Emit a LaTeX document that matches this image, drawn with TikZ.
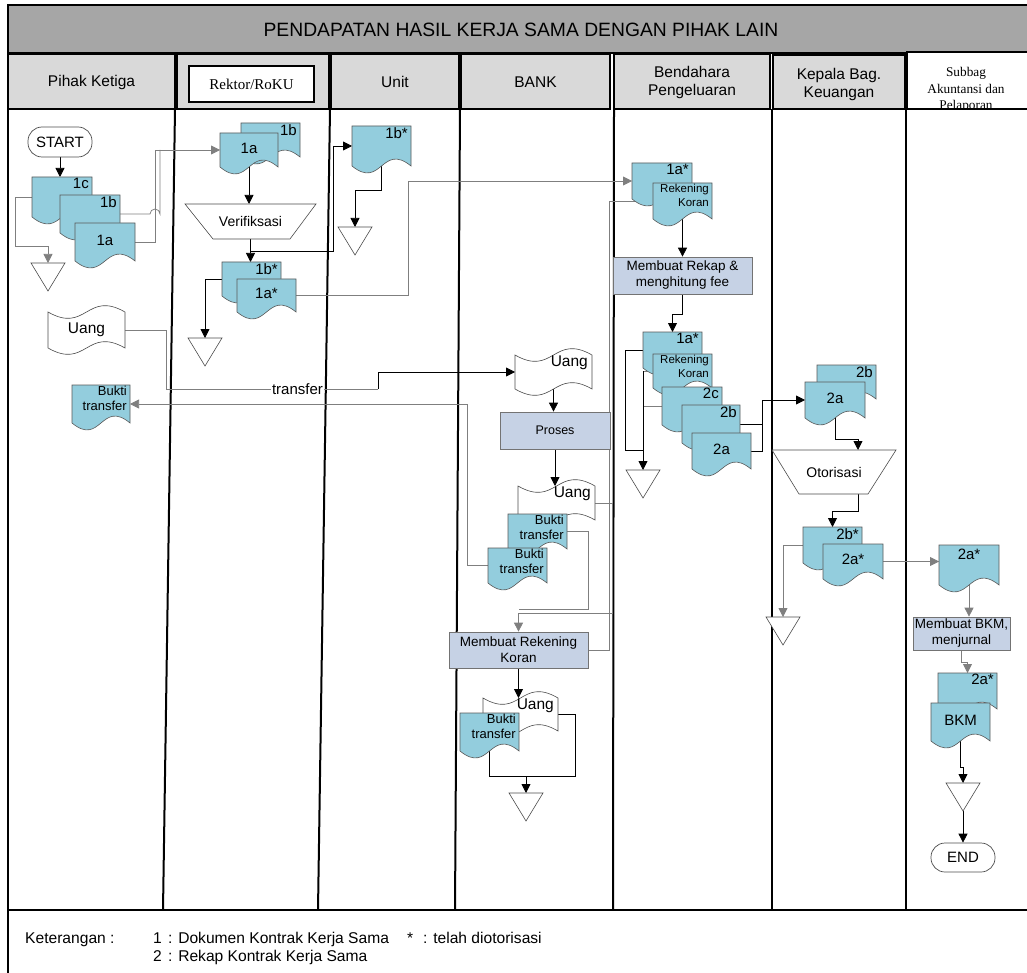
\documentclass[tikz,border=0pt]{standalone}
\usepackage{fontspec}
\setmainfont{Liberation Sans}
\newfontfamily\tnr{Liberation Serif}
\usetikzlibrary{arrows.meta}
\pgfdeclarelayer{bg}
\pgfsetlayers{bg,main}
\definecolor{docblue}{HTML}{93CDDD}
\definecolor{procfill}{HTML}{C6D2E5}
\definecolor{hdrgray}{HTML}{D9D9D9}
\definecolor{titlegray}{HTML}{A6A6A6}
\definecolor{lgray}{HTML}{7F7F7F}

% document shape, label top right
\newcommand\DocTR[7]{%
  \draw[docsty] (#2,#3) -- ({#2+#4},#3) -- ({#2+#4},{#3+#5}) .. controls ({#2+0.5*#4},{#3+#5-24}) and ({#2+0.5*#4},{#3+#5+24}) .. (#2,{#3+#5}) -- cycle;
  \node[box, minimum width=#4, minimum height=#5, anchor=north west] (#1) at (#2,#3) {};
  \node[dlbl, anchor=north east, #6] at ({#2+#4-2},{#3}) {#7};}
% document shape, label centred
\newcommand\DocC[7]{%
  \draw[docsty] (#2,#3) -- ({#2+#4},#3) -- ({#2+#4},{#3+#5}) .. controls ({#2+0.5*#4},{#3+#5-24}) and ({#2+0.5*#4},{#3+#5+24}) .. (#2,{#3+#5}) -- cycle;
  \node[box, minimum width=#4, minimum height=#5, anchor=north west] (#1) at (#2,#3) {};
  \node[dlbl, #6] at ({#2+0.5*#4},{#3+0.45*#5}) {#7};}
% punched tape shape
\newcommand\TapeShape[4]{%
  \draw[tapesty] (#1,#2) .. controls ({#1+0.5*#3},{#2+22}) and ({#1+0.5*#3},{#2-22}) .. ({#1+#3},#2) -- ({#1+#3},{#2+#4}) .. controls ({#1+0.5*#3},{#2+#4-22}) and ({#1+0.5*#3},{#2+#4+22}) .. (#1,{#2+#4}) -- cycle;}
\newcommand\TapeC[7]{%
  \TapeShape{#2}{#3}{#4}{#5}
  \node[box, minimum width=#4, minimum height=#5, anchor=north west] (#1) at (#2,#3) {};
  \node[lbl, #6] at (#1) {#7};}
\newcommand\TapeTR[7]{%
  \TapeShape{#2}{#3}{#4}{#5}
  \node[box, minimum width=#4, minimum height=#5, anchor=north west] (#1) at (#2,#3) {};
  \node[lbl, anchor=north east, #6] at ({#2+#4-3},{#3}) {#7};}
% off-page / storage triangle
\newcommand\Tri[3]{%
  \draw[tapesty] ({#2-17},#3) -- ({#2+17},#3) -- (#2,{#3+28}) -- cycle;
  \node[box, minimum width=34, minimum height=28, anchor=north] (#1) at (#2,#3) {};}

\begin{document}
\begin{tikzpicture}[x=1pt,y=-1pt, line join=miter,
  conn/.style={line width=0.75pt, draw=black},
  gconn/.style={line width=0.75pt, draw=lgray},
  arr/.style={-{Triangle[length=9pt,width=9pt]}},
  docsty/.style={draw=black!65, line width=0.6pt, fill=docblue},
  tapesty/.style={draw=black!70, line width=0.6pt, fill=white},
  box/.style={draw=none, inner sep=0pt, outer sep=0pt},
  lbl/.style={inner sep=1pt, font=\fontsize{14}{16}\selectfont},
  dlbl/.style={inner sep=1pt, font=\fontsize{15}{16}\selectfont},
  big/.style={font=\fontsize{15.5}{17}\selectfont},
  small/.style={font=\fontsize{13}{15}\selectfont, align=right},
  tiny/.style={font=\fontsize{11.5}{13.5}\selectfont, align=right},
  proc/.style={draw=black!55, line width=0.7pt, fill=procfill, inner sep=2pt, align=center, font=\fontsize{13.5}{16}\selectfont},
  lane/.style={line width=2pt, draw=black},
  hdr/.style={draw=black, line width=1.6pt, fill=hdrgray},
  hdrtxt/.style={align=center, font=\fontsize{15.5}{18}\selectfont},
  term/.style={draw=black!70, line width=0.7pt, rounded corners=14pt, inner sep=0pt, font=\fontsize{15}{17}\selectfont}
]
\useasboundingbox (0,0) rectangle (1027,973);

% ---------- frame, title and headers ----------
\draw[line width=1.6pt, fill=titlegray] (8,5) rectangle (1040,53);
\node[font=\fontsize{19.3}{22}\selectfont] (title) at (521,30) {PENDAPATAN HASIL KERJA SAMA DENGAN PIHAK LAIN};
\draw[line width=2pt] (8,5) -- (8,975);

\draw[hdr] (8,54) rectangle (175,109);
\node[hdrtxt] (h1) at (91.5,82) {Pihak Ketiga};
\draw[hdr] (177,54) rectangle (329,109);
\node[draw=black, line width=1.4pt, fill=white, minimum width=125, minimum height=36, inner sep=0pt, font=\tnr\fontsize{15}{17}\selectfont] (h2) at (251.5,84) {Rektor/RoKU};
\draw[hdr] (331,54) rectangle (459,109);
\node[hdrtxt] (h3) at (395,82) {Unit};
\draw[hdr] (461,54) rectangle (610,109);
\node[hdrtxt] (h4) at (535.5,82) {BANK};
\draw[hdr] (614,54) rectangle (770,109);
\node[hdrtxt] (h5) at (692,82) {Bendahara\\Pengeluaran};
\draw[hdr] (773,55) rectangle (905,109);
\node[hdrtxt] (h6) at (839,84) {Kepala Bag.\\Keuangan};
\draw[line width=1.4pt, fill=white] (907,52) rectangle (1040,109);
\begin{scope}
\clip (908,53) rectangle (1040,108);
\node[align=center, font=\tnr\fontsize{13.3}{16.5}\selectfont] (h7) at (966,90) {Subbag\\Akuntansi dan\\Pelaporan};
\end{scope}

% ---------- lanes ----------
\begin{pgfonlayer}{bg}
\draw[lane] (175,109) -- (163,910);
\draw[lane] (330,109) -- (318,910);
\draw[lane] (460,109) -- (455,910);
\draw[lane] (614,109) -- (613,910);
\draw[lane] (772,109) -- (772,910);
\draw[lane] (906,109) -- (906,910);
\draw[line width=1.6pt] (8,910) -- (1040,910);
\end{pgfonlayer}

% ---------- Pihak Ketiga ----------
\node[term, minimum width=64, minimum height=30] (start) at (60,142) {START};
\DocTR{d1c}{32}{177}{60}{40}{}{1c}
\DocTR{d1b}{60}{195}{60}{38}{}{1b}
\DocC{d1a}{75}{223}{60}{38}{}{1a}
\Tri{t1}{48}{263}
\TapeC{uang1}{48}{312}{77}{36}{big}{Uang}
\DocTR{bt1}{72}{385}{58}{38}{small}{Bukti\\transfer}

% ---------- Rektor ----------
\DocTR{r1b}{241}{123}{59}{34}{}{1b}
\DocC{r1a}{220}{133}{58}{34}{}{1a}
\draw[tapesty] (185,204) -- (316,204) -- (290,239) -- (213,239) -- cycle;
\node[box, minimum width=131, minimum height=35] (verif) at (250.5,221.5) {};
\node[lbl] at (verif) {Verifiksasi};
\DocTR{r1bs}{222}{262}{59}{34}{}{1b*}
\DocC{r1as}{237}{279}{59}{33}{}{1a*}
\Tri{t2}{205}{338}

% ---------- Unit ----------
\DocTR{u1bs}{352}{126}{59}{40}{}{1b*}
\Tri{t3}{355}{227}

% ---------- BANK ----------
\TapeTR{uang2}{515}{355}{77}{34}{big}{Uang}
\node[proc, minimum width=110, minimum height=37, font=\fontsize{12.5}{15}\selectfont] (proses) at (555,430.5) {Proses};
\TapeTR{uang3}{518}{486}{77}{34}{big}{Uang}
\DocTR{bt2}{508}{514}{59}{35}{small}{Bukti\\transfer}
\DocTR{bt3}{488}{548}{59}{35}{small}{Bukti\\transfer}
\node[proc, minimum width=139, minimum height=36] (mrk) at (518.5,650) {Membuat Rekening\\Koran};
\TapeTR{uang4}{483}{698}{75}{33}{big}{Uang}
\DocTR{bt4}{460}{713}{59}{38}{small}{Bukti\\transfer}
\Tri{t4}{526}{793}

% ---------- Bendahara ----------
\DocTR{b1as}{632}{163}{60}{36}{}{1a*}
\DocTR{brk}{653}{183}{59}{36}{tiny}{Rekening\\Koran}
\node[proc, minimum width=139, minimum height=37] (mrf) at (682.5,275.5) {Membuat Rekap \&\\menghitung fee};
\DocTR{b1as2}{643}{332}{59}{36}{}{1a*}
\DocTR{brk2}{653}{354}{59}{34}{tiny}{Rekening\\Koran}
\DocTR{b2c}{662}{387}{60}{38}{}{2c}
\DocTR{b2b}{682}{405}{58}{38}{}{2b}
\DocC{b2a}{692}{433}{59}{36}{}{2a}
\Tri{t5}{643}{470}

% ---------- Kepala Bag. Keuangan ----------
\DocTR{k2b}{817}{365}{59}{34}{}{2b}
\DocC{k2a}{805}{382}{60}{36}{}{2a}
\draw[tapesty] (772,450) -- (896,450) -- (868,494) -- (799,494) -- cycle;
\node[box, minimum width=124, minimum height=44] (otor) at (834,472) {};
\node[lbl] at (otor) {Otorisasi};
\DocTR{k2bs}{803}{527}{59}{36}{}{2b*}
\DocC{k2as}{823}{544}{60}{35}{}{2a*}
\Tri{t6}{783}{617}

% ---------- Subbag ----------
\DocC{s2as}{939}{545}{60}{40}{yshift=9pt}{2a*}
\node[proc, minimum width=97, minimum height=33] (bkm) at (961.5,633.5) {Membuat BKM,\\menjurnal};
\DocTR{s2as2}{938}{673}{59}{36}{}{2a*}
\DocC{sbkm}{931}{703}{59}{38}{}{BKM}
\Tri{t7}{963}{783}
\node[term, minimum width=64, minimum height=29] (end) at (963,857.5) {END};

% ---------- connectors ----------
\coordinate (j1) at (250.5,251);
\begin{pgfonlayer}{bg}
\draw[conn,arr] (start.south) -- (start.south |- d1c.north);
\draw[gconn,arr] (d1c.west) -- (15,197) |- (48,246) -- (t1.north);
\draw[gconn,arr] (d1a.east) -- (155,242) -- (155,150) -- (r1a.west);
\draw[gconn] (d1b.east) -- (150,214) arc[start angle=180, end angle=0, radius=5pt] -- (160,150);
\draw[conn,arr] (r1a.south) -- (r1a.south |- verif.north);
\draw[conn,arr] (verif.south) -- (verif.south |- r1bs.north);
\draw[conn,arr] (j1) -- (333,251) -- (333,146) -- (u1bs.west);
\draw[conn,arr] (r1bs.west) -- (205,279) -- (t2.north);
\draw[gconn,arr] (r1as.east) -- (408,295.5) -- (408,181) -- (b1as.west);
\draw[conn,arr] (u1bs.south) -- (381.5,190) -- (355,190) -- (t3.north);
\draw[gconn] (uang1.east) -- (166,330) -- (166,389) -- node[pos=0.62, fill=white, inner sep=1pt, font=\fontsize{15}{17}\selectfont] (trf) {transfer} (378,389);
\draw[conn,arr] (378,389) -- (378,372) -- (uang2.west);
\draw[gconn,arr] (bt3.west) -- (467,565.5) -- (467,404) -- (bt1.east);
\draw[conn,arr] (uang2.south) -- (uang2.south |- proses.north);
\draw[conn,arr] (proses.south) -- (proses.south |- uang3.north);
\draw[gconn,arr] (uang3.east) -- (612,503) -- (612,613) -- (518.5,613) -- (mrk.north);
\draw[gconn] (bt2.east) -- (588,531.5) -- (588,609) -- (518.5,609);
\draw[gconn,arr] (mrk.east) -- (609,650) -- (609,201) -- (brk.west);
\draw[conn,arr] (mrk.south) -- (mrk.south |- uang4.north);
\draw[conn] (uang4.east) -- (575,714.5) -- (575,776) -- (489.5,776) -- (bt4.south);
\draw[conn,arr] (526,776) -- (t4.north);
\draw[conn,arr] (brk.south) -- (brk.south |- mrf.north);
\draw[conn,arr] (mrf.south) -- (682.5,314) -- (672.5,314) -- (b1as2.north);
\draw[conn] (b1as2.west) -- (625,350) -- (625,450) -- (643,450);
\draw[gconn] (brk2.west) -- (643,371);
\draw[gconn] (b2c.west) -- (643,406);
\draw[conn,arr] (643,371) -- (t5.north);
\draw[conn,arr] (b2a.east) -- (762,451) -- (762,400) -- (k2a.west);
\draw[conn] (b2b.east) -- (762,424);
\draw[conn,arr] (k2a.south) -- (835,439) -- (858,439) -- ([xshift=24pt]otor.north);
\draw[conn,arr] ([xshift=24pt]otor.south) -- (858,511) -- (832.5,511) -- (k2bs.north);
\draw[gconn,arr] (k2bs.west) -- (783,545) -- (t6.north);
\draw[gconn,arr] (k2as.east) -- (k2as.east -| s2as.west);
\draw[gconn,arr] (s2as.south) -- (s2as.south |- bkm.north);
\draw[gconn,arr] (bkm.south) -- (961.5,662) -- (967.5,662) -- (s2as2.north);
\draw[conn,arr] (sbkm.south) -- (960.5,767) -- (963,767) -- (t7.north);
\draw[conn,arr] (t7.south) -- (end.north);
\end{pgfonlayer}

% ---------- legend ----------
\begin{scope}[every node/.style={anchor=base west, inner sep=0pt, font=\fontsize{15.6}{17}\selectfont}]
\node (k0) at (25,943) {Keterangan :};
\node (k1) at (153,943) {1};
\node (k1t) at (168,943) {: Dokumen Kontrak Kerja Sama};
\node (k3) at (407,943) {*};
\node (k3t) at (423,943) {: telah diotorisasi};
\node (k2) at (153,961) {2};
\node (k2t) at (168,961) {: Rekap Kontrak Kerja Sama};
\end{scope}
\end{tikzpicture}
\end{document}
